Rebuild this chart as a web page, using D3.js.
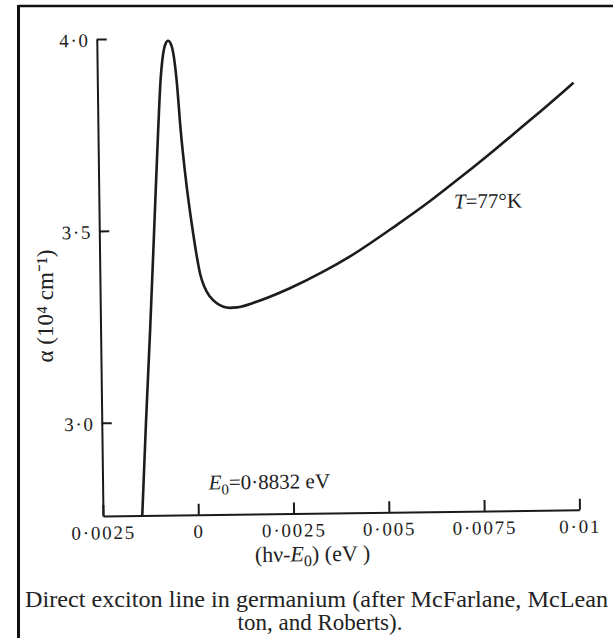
<!DOCTYPE html>
<html>
<head>
<meta charset="utf-8">
<script src="https://d3js.org/d3.v7.min.js"></script>
<style>
    body { margin: 0; background: white; }
    svg { display: block; }
    .tick text { font-family: "Liberation Serif", serif; font-size: 19px; fill: #222; letter-spacing: 1.8px; }
    .lbl { font-family: "Liberation Serif", serif; fill: #222; }
</style>
</head>
<body>
<div id="chart"></div>
<script>
    // (hv - E0) in eV
    let energy = [-0.00147, -0.00134, -0.00120, -0.00106, -0.00092, -0.00084,
        -0.00077, -0.00070, -0.00063, -0.00056, -0.00049, -0.00042, -0.00033, -0.00021,
        -0.00005, 0.00005, 0.00013, 0.00024, 0.00038, 0.00055, 0.00073, 0.00090, 0.00108,
        0.00160, 0.00248, 0.00336, 0.00407, 0.00530, 0.00618, 0.00707, 0.00795, 0.00884,
        0.00972, 0.00999];
    // absorption coefficient, 10^4 cm^-1
    let alpha = [2.757, 3.000, 3.240, 3.500, 3.761, 3.891,
        3.955, 3.985, 3.993, 3.985, 3.955, 3.891, 3.760, 3.630,
        3.499, 3.430, 3.385, 3.350, 3.325, 3.308, 3.298, 3.295, 3.296,
        3.310, 3.344, 3.386, 3.425, 3.505, 3.566, 3.633, 3.702, 3.774,
        3.847, 3.870];

    let xTicks = [-0.0025, 0, 0.0025, 0.005, 0.0075, 0.01];
    let xTickLabels = ["0·0025", "0", "0·0025", "0·005", "0·0075", "0·01"];
    let yTicks = [3.0, 3.5, 4.0];
    let yTickLabels = ["3·0", "3·5", "4·0"];

    let width = 613, height = 638;
    let x0 = 103, y0 = 516;

    let svg = d3.select("#chart").append("svg")
        .attr("width", width)
        .attr("height", height);

    // page frame
    svg.append("path").attr("d", "M18.5,6H613").attr("stroke", "#111").attr("stroke-width", 2.5).attr("fill", "none");
    svg.append("path").attr("d", "M18.5,5V638").attr("stroke", "#111").attr("stroke-width", 3).attr("fill", "none");

    // the scan is slightly tilted
    let g = svg.append("g").attr("transform", "rotate(-0.75," + x0 + "," + y0 + ")");

    let x = d3.scaleLinear().domain([-0.0025, 0.01]).range([x0, 579.5]);
    let y = d3.scaleLinear().domain([2.757, 4.0]).range([y0, 39]);

    let xAxis = g.append("g")
        .attr("transform", "translate(0," + y0 + ")")
        .call(d3.axisBottom(x).tickValues(xTicks)
            .tickFormat((d, i) => xTickLabels[i])
            .tickSizeInner(-11).tickSizeOuter(0).tickPadding(9));

    let yAxis = g.append("g")
        .attr("transform", "translate(" + x0 + ",0)")
        .call(d3.axisLeft(y).tickValues(yTicks)
            .tickFormat((d, i) => yTickLabels[i])
            .tickSizeInner(-10).tickSizeOuter(0).tickPadding(7));

    g.selectAll(".domain").attr("stroke", "#1a1a1a").attr("stroke-width", 2);
    g.selectAll(".tick line").attr("stroke", "#1a1a1a").attr("stroke-width", 2);
    xAxis.selectAll(".tick text").attr("dy", "0.75em");
    yAxis.selectAll(".tick text").attr("dy", "0.38em");

    let line = d3.line()
        .x((d, i) => x(energy[i]))
        .y((d, i) => y(alpha[i]))
        .curve(d3.curveMonotoneX);

    g.append("path")
        .datum(energy)
        .attr("d", line)
        .attr("fill", "none")
        .attr("stroke", "#1c1c1c")
        .attr("stroke-width", 2.6)
        .attr("stroke-linejoin", "round");

    // annotations
    let tLbl = g.append("text").attr("class", "lbl").attr("x", 458).attr("y", 213).attr("font-size", 21);
    tLbl.append("tspan").attr("font-style", "italic").text("T");
    tLbl.append("tspan").text("=77°K");

    let eLbl = g.append("text").attr("class", "lbl").attr("x", 209).attr("y", 491).attr("font-size", 21);
    eLbl.append("tspan").attr("font-style", "italic").text("E");
    eLbl.append("tspan").attr("font-size", 15).attr("dy", 5).text("0");
    eLbl.append("tspan").attr("dy", -5).text("=0·8832 eV");

    let xt = g.append("text").attr("class", "lbl").attr("x", 312).attr("y", 564)
        .attr("font-size", 22).attr("text-anchor", "middle");
    xt.append("tspan").text("(hν-");
    xt.append("tspan").attr("font-style", "italic").text("E");
    xt.append("tspan").attr("font-size", 16).attr("dy", 5).text("0");
    xt.append("tspan").attr("dy", -5).text(") (eV )");

    svg.append("text").attr("class", "lbl")
        .attr("transform", "translate(53,306) rotate(-90)")
        .attr("text-anchor", "middle")
        .attr("font-size", 23)
        .text("α (10⁴ cm⁻¹)");

    // caption
    svg.append("text").attr("class", "lbl")
        .attr("x", 25).attr("y", 607)
        .attr("font-size", 23)
        .attr("textLength", 583).attr("lengthAdjust", "spacingAndGlyphs")
        .text("Direct exciton line in germanium (after McFarlane, McLean");
    svg.append("text").attr("class", "lbl")
        .attr("x", 320).attr("y", 630)
        .attr("font-size", 23)
        .attr("text-anchor", "middle")
        .text("ton, and Roberts).");
</script>
</body>
</html>
